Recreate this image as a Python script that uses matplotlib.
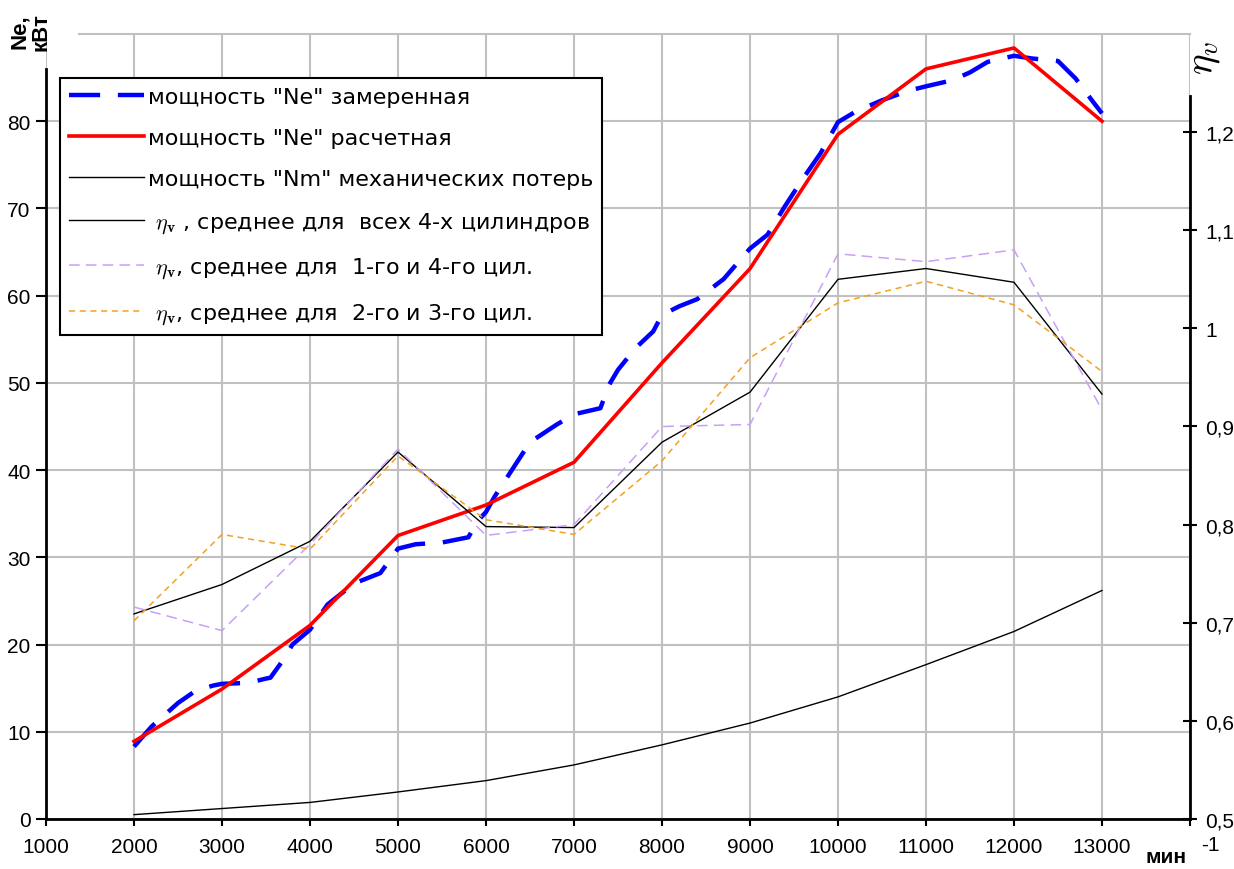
import matplotlib
matplotlib.use("Agg")
import matplotlib.pyplot as plt

plt.rcParams['font.family'] = ['Liberation Sans', 'DejaVu Sans']
plt.rcParams['mathtext.fontset'] = 'cm'

# rpm points of the calculated curves
rpm = [2000, 3000, 4000, 5000, 6000, 7000, 8000, 9000, 10000, 11000, 12000, 13000]

# power, kW
ne_calc = [8.9, 14.9, 22.2, 32.5, 36.0, 40.9, 52.3, 63.1, 78.5, 86.0, 88.4, 80.0]
nm_loss = [0.5, 1.2, 1.9, 3.1, 4.4, 6.2, 8.5, 11.0, 14.0, 17.7, 21.5, 26.2]

# measured power (dense trace)
rpm_meas = [2000, 2200, 2500, 2700, 2900, 3000, 3300, 3500, 3550, 3700, 3800, 4000,
            4200, 4500, 4800, 5000, 5200, 5500, 5800, 5900, 6000, 6100, 6300, 6500,
            6800, 7000, 7300, 7400, 7500, 7700, 7900, 8000, 8200, 8400, 8700, 9000,
            9200, 9400, 9600, 9800, 10000, 10200, 10500, 10800, 11000, 11300, 11500,
            11700, 12000, 12200, 12500, 12700, 12900, 13000]
ne_meas = [8.3, 10.6, 13.3, 14.7, 15.3, 15.5, 15.6, 16.1, 16.2, 18.3, 20.0, 21.7,
           24.6, 27.0, 28.2, 31.0, 31.5, 31.7, 32.3, 34.1, 35.2, 37.0, 40.1, 43.2,
           45.2, 46.4, 47.1, 49.8, 51.5, 54.0, 55.9, 57.8, 58.8, 59.6, 61.9, 65.4,
           67.0, 70.3, 73.4, 76.3, 79.9, 81.1, 82.4, 83.5, 84.0, 84.7, 85.6,
           86.8, 87.5, 87.2, 86.9, 84.9, 82.2, 80.9]

# volumetric efficiency
eta_all = [0.709, 0.739, 0.783, 0.874, 0.798, 0.797, 0.884, 0.935, 1.050, 1.061, 1.047, 0.933]
eta_14 = [0.716, 0.692, 0.780, 0.877, 0.789, 0.800, 0.900, 0.902, 1.076, 1.068, 1.080, 0.917]
eta_23 = [0.702, 0.790, 0.775, 0.870, 0.805, 0.790, 0.865, 0.970, 1.026, 1.048, 1.024, 0.956]

x_ticks = list(range(1000, 15000, 1000))
x_labels = [str(t) for t in x_ticks[:-1]] + ['']
left_ticks = list(range(0, 90, 10))
right_ticks = [0.5, 0.6, 0.7, 0.8, 0.9, 1.0, 1.1, 1.2]
right_labels = ['0,5', '0,6', '0,7', '0,8', '0,9', '1', '1,1', '1,2']

grid_c = '#c0c0c0'

fig = plt.figure(figsize=(12.34, 8.70), dpi=100)
ax = fig.add_axes([46 / 1234, 50 / 870, 1144 / 1234, 785 / 870])
ax2 = ax.twinx()

l1, = ax.plot(rpm_meas, ne_meas, color='#0000ff', lw=3.2, dashes=(7, 4), zorder=3)
l2, = ax.plot(rpm, ne_calc, color='#ff0000', lw=2.6, zorder=4)
l3, = ax.plot(rpm, nm_loss, color='black', lw=1.0, zorder=3)

l4, = ax2.plot(rpm, eta_all, color='black', lw=1.0)
l5, = ax2.plot(rpm, eta_14, color='#c8a0f5', lw=1.1, dashes=(7, 4))
l6, = ax2.plot(rpm, eta_23, color='#f5a020', lw=1.1, dashes=(4, 3))

ax.set_xlim(1000, 14000)
ax.set_ylim(0, 90)
ax2.set_ylim(0.5, 1.3)

ax.set_xticks(x_ticks)
ax.set_xticklabels(x_labels, fontsize=15)
ax.set_yticks(left_ticks)
ax.set_yticklabels([str(t) for t in left_ticks], fontsize=15)
ax2.set_yticks(right_ticks)
ax2.set_yticklabels(right_labels, fontsize=15)

ax.grid(True, color=grid_c, lw=1.5)
ax.set_axisbelow(True)

ax.tick_params(axis='x', direction='out', length=5, width=1.5, pad=8)
ax.tick_params(axis='y', direction='out', length=7, width=1.5, pad=4)
ax2.tick_params(axis='y', direction='inout', length=10, width=1.5, pad=6)

for s in ['left', 'bottom']:
    ax.spines[s].set_linewidth(2)
    ax.spines[s].set_color('black')
ax.spines['left'].set_bounds(0, 86)
ax.spines['right'].set_visible(False)
ax.spines['top'].set_color(grid_c)
ax.spines['top'].set_linewidth(1.5)
ax.spines['top'].set_bounds(1380, 14000)
for s in ['left', 'bottom', 'top']:
    ax2.spines[s].set_visible(False)
ax2.spines['right'].set_linewidth(2)
ax2.spines['right'].set_bounds(0.5, 1.237)

eta = r'$\eta_{\mathbf{v}}$'
labels = ['мощность "Ne" замеренная',
          'мощность "Ne" расчетная',
          'мощность "Nm" механических потерь',
          ' ' + eta + ' , среднее для  всех 4-х цилиндров',
          ' ' + eta + ', среднее для  1-го и 4-го цил.',
          ' ' + eta + ', среднее для  2-го и 3-го цил.']
leg = ax2.legend([l1, l2, l3, l4, l5, l6], labels, loc='upper left',
                 bbox_to_anchor=(0.012, 0.944), borderaxespad=0,
                 prop={'family': 'DejaVu Sans', 'size': 16},
                 frameon=True, fancybox=False, edgecolor='black', framealpha=1,
                 handlelength=3.4, handletextpad=0.15, labelspacing=0.95,
                 borderpad=0.4)
leg.get_frame().set_linewidth(1.5)

fig.text(30 / 1234, 1 - 32 / 870, 'Ne,\nкВт', rotation=90, fontsize=16,
         fontweight='bold', ha='center', va='center', linespacing=1.0)
fig.text(1204 / 1234, 1 - 58 / 870, r'$\eta_{v}$', rotation=90, fontsize=28,
         ha='center', va='center')
fig.text(1166 / 1234, 1 - 858 / 870, 'мин', fontsize=15, fontweight='bold',
         ha='center', va='center')
fig.text(1210 / 1234, 1 - 846 / 870, '-1', fontsize=15, ha='center', va='center')

fig.savefig('out.png', dpi=100)
